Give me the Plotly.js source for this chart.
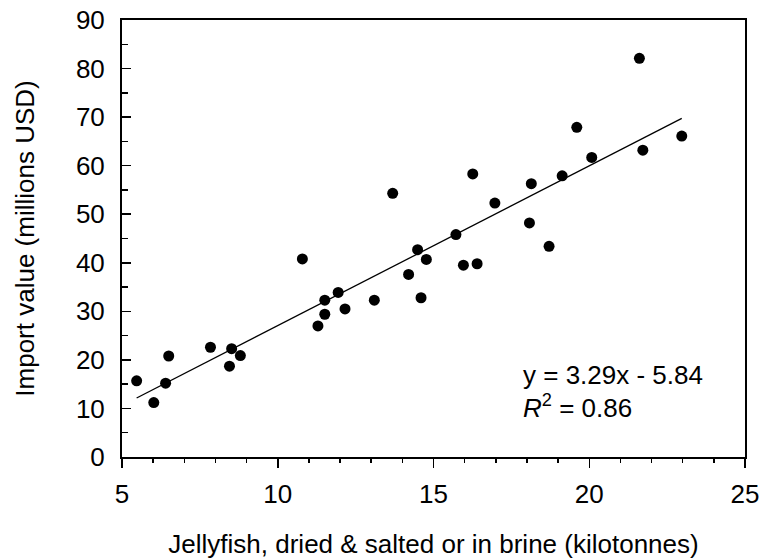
<!DOCTYPE html>
<html>
<head>
<meta charset="utf-8">
<script src="https://cdn.plot.ly/plotly-3.0.1.min.js"></script>
<style>html,body{margin:0;padding:0;background:#fff;}#chart{width:763px;height:559px;}</style>
</head>
<body>
<div id="chart"></div>
<script>
// Jellyfish exports (kilotonnes) vs import value (millions USD)
const jellyfishKt = [5.47, 6.02, 6.40, 6.50, 7.84, 8.45, 8.52, 8.80, 10.79, 11.29, 11.51, 11.51, 11.94, 12.16, 13.10, 13.69, 14.20, 14.49, 14.60, 14.77, 15.72, 15.96, 16.26, 16.40, 16.97, 18.08, 18.14, 18.71, 19.13, 19.60, 20.08, 21.61, 21.72, 22.97];
const importValue = [15.7, 11.2, 15.2, 20.8, 22.6, 18.7, 22.3, 20.9, 40.8, 27.0, 29.4, 32.3, 33.9, 30.5, 32.3, 54.3, 37.6, 42.7, 32.8, 40.7, 45.8, 39.5, 58.3, 39.8, 52.3, 48.2, 56.3, 43.4, 57.9, 67.9, 61.7, 82.1, 63.2, 66.1];
const fitSlope = 3.29;
const fitIntercept = -5.84;
const fitR2 = 0.86;
const xTickVals = [5, 10, 15, 20, 25];
const yTickVals = [0, 10, 20, 30, 40, 50, 60, 70, 80, 90];

const xMin = Math.min(...jellyfishKt), xMax = Math.max(...jellyfishKt);
const fitX = [xMin, xMax];
const fitY = fitX.map(v => fitSlope * v + fitIntercept);

const fam = '"Liberation Sans", Arial, sans-serif';
const f = s => ({family: fam, size: s, color: '#000'});

const traces = [
  {x: fitX, y: fitY, type: 'scatter', mode: 'lines', line: {color: '#000', width: 1.3}, hoverinfo: 'skip'},
  {x: jellyfishKt, y: importValue, type: 'scatter', mode: 'markers', marker: {color: '#000', size: 11}}
];

const layout = {
  width: 763, height: 559,
  margin: {l: 122, r: 18, t: 20, b: 102, pad: 0},
  paper_bgcolor: '#fff', plot_bgcolor: '#fff',
  showlegend: false,
  font: f(26),
  xaxis: {
    range: [5, 25], tickvals: xTickVals, ticktext: xTickVals.map(String),
    showgrid: false, zeroline: false,
    showline: true, mirror: true, linecolor: '#000', linewidth: 2,
    ticks: 'outside', ticklen: 9, tickwidth: 1.5, tickcolor: '#000',
    minor: {dtick: 1, tick0: 5, ticks: 'outside', ticklen: 4, tickwidth: 1.5, tickcolor: '#000', showgrid: false},
    tickfont: f(26),
    ticklabelstandoff: 4,
    title: {text: 'Jellyfish, dried &amp; salted or in brine (kilotonnes)', font: f(26), standoff: 28},
    automargin: false
  },
  yaxis: {
    range: [0, 90], tickvals: yTickVals, ticktext: yTickVals.map(String),
    showgrid: false, zeroline: false,
    showline: true, mirror: true, linecolor: '#000', linewidth: 2,
    ticks: 'inside', ticklen: 9, tickwidth: 1.5, tickcolor: '#000',
    minor: {dtick: 5, tick0: 0, ticks: 'inside', ticklen: 6, tickwidth: 1.5, tickcolor: '#000', showgrid: false},
    tickfont: f(26),
    ticklabelstandoff: 10,
    title: {text: 'Import value (millions USD)', font: f(26), standoff: 34},
    automargin: false
  },
  annotations: [
    {xref: 'x', yref: 'y', x: 17.8, y: 16.8, xanchor: 'left', yanchor: 'middle', align: 'left', showarrow: false,
     text: 'y = ' + fitSlope.toFixed(2) + 'x - ' + Math.abs(fitIntercept).toFixed(2), font: f(26)},
    {xref: 'x', yref: 'y', x: 17.8, y: 10.4, xanchor: 'left', yanchor: 'middle', align: 'left', showarrow: false,
     text: '<i>R</i><sup>2</sup> = ' + fitR2.toFixed(2), font: f(26)}
  ]
};

Plotly.newPlot('chart', traces, layout, {displayModeBar: false, staticPlot: true});
</script>
</body>
</html>
